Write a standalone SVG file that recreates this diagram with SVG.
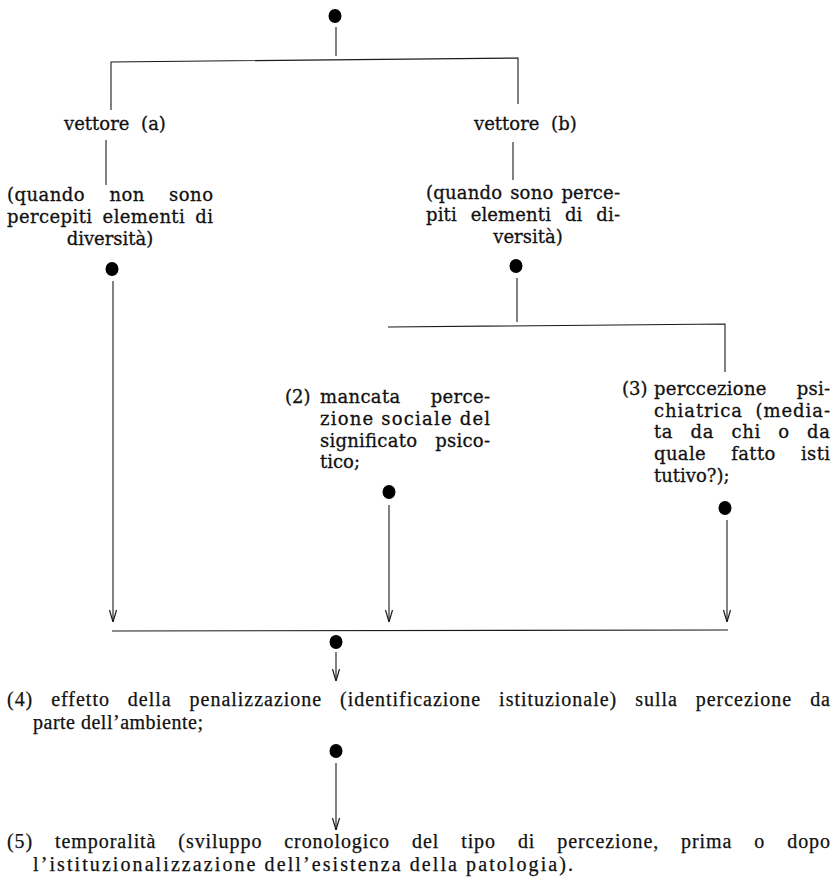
<svg xmlns="http://www.w3.org/2000/svg" width="837" height="877" viewBox="0 0 837 877">
<defs>
<marker id="arr" viewBox="0 -5 12 10" refX="12" refY="0" markerWidth="12" markerHeight="10" markerUnits="userSpaceOnUse" orient="auto">
<path d="M0,-3.5 L12,0 L0,3.5" fill="none" stroke="#1a1a1a" stroke-width="1.2"/>
</marker>
</defs>
<style>
.ln{stroke:#1a1a1a;stroke-width:1.1;fill:none}
.dot{fill:#000}
.t{font-family:"DejaVu Serif","Liberation Serif",serif;font-size:18px;fill:#111;stroke:#111;stroke-width:0.3}
.b{font-family:"Liberation Serif","Times New Roman",serif;font-size:20px;fill:#111;stroke:#111;stroke-width:0.25}
</style>
<rect width="837" height="877" fill="#fff"/>
<g id="connectors">
<line class="ln" x1="336" y1="27" x2="336" y2="56"/>
<polyline class="ln" points="111,110 111,62 518,58 518,104"/>
<line class="ln" x1="106" y1="140" x2="106" y2="185"/>
<line class="ln" x1="513" y1="142" x2="513" y2="180"/>
<line class="ln" x1="113" y1="281" x2="113" y2="622" marker-end="url(#arr)"/>
<line class="ln" x1="517" y1="278" x2="517" y2="322"/>
<polyline class="ln" points="388,327 725,324 725,372"/>
<line class="ln" x1="389" y1="505" x2="389" y2="622" marker-end="url(#arr)"/>
<line class="ln" x1="727" y1="520" x2="727" y2="622" marker-end="url(#arr)"/>
<line class="ln" x1="112" y1="631" x2="728" y2="630"/>
<line class="ln" x1="336" y1="652" x2="336" y2="681" marker-end="url(#arr)"/>
<line class="ln" x1="336" y1="763" x2="336" y2="830" marker-end="url(#arr)"/>
</g>
<g id="n-start">
<ellipse class="dot" cx="335" cy="16" rx="6.5" ry="7"/>
</g>
<g id="n-vettore-a">
<text class="t" x="64" y="130" word-spacing="6">vettore (a)</text>
</g>
<g id="n-a">
<text class="t" x="7" y="201" textLength="206" lengthAdjust="spacing" word-spacing="18">(quando non sono</text>
<text class="t" x="7" y="223" textLength="206" lengthAdjust="spacing" word-spacing="4">percepiti elementi di</text>
<text class="t" x="110" y="245" text-anchor="middle">diversità)</text>
<ellipse class="dot" cx="112" cy="269" rx="6.5" ry="7"/>
</g>
<g id="n-vettore-b">
<text class="t" x="474" y="130" word-spacing="6">vettore (b)</text>
</g>
<g id="n-b">
<text class="t" x="426" y="199" textLength="194" lengthAdjust="spacing" word-spacing="2">(quando sono perce-</text>
<text class="t" x="426" y="221" textLength="194" lengthAdjust="spacing" word-spacing="8">piti elementi di di-</text>
<text class="t" x="528" y="243" text-anchor="middle">versità)</text>
<ellipse class="dot" cx="516" cy="266" rx="6.5" ry="7"/>
</g>
<g id="n-2">
<text class="t" x="285" y="403">(2)</text>
<text class="t" x="320" y="403" textLength="170" lengthAdjust="spacing" word-spacing="24">mancata perce-</text>
<text class="t" x="320" y="425" textLength="170" lengthAdjust="spacing">zione sociale del</text>
<text class="t" x="320" y="447" textLength="170" lengthAdjust="spacing" word-spacing="12">significato psico-</text>
<text class="t" x="320" y="468">tico;</text>
<ellipse class="dot" cx="389" cy="492" rx="6.5" ry="7"/>
</g>
<g id="n-3">
<text class="t" x="622" y="395">(3)</text>
<text class="t" x="654" y="395" textLength="176" lengthAdjust="spacing" word-spacing="24">perccezione psi-</text>
<text class="t" x="654" y="417" textLength="176" lengthAdjust="spacing" word-spacing="6">chiatrica (media-</text>
<text class="t" x="654" y="438" textLength="176" lengthAdjust="spacing" word-spacing="11">ta da chi o da</text>
<text class="t" x="654" y="460" textLength="176" lengthAdjust="spacing" word-spacing="19">quale fatto isti</text>
<text class="t" x="654" y="482">tutivo?);</text>
<ellipse class="dot" cx="725" cy="508" rx="6.5" ry="7"/>
</g>
<g id="n-join">
<ellipse class="dot" cx="336" cy="642" rx="6.5" ry="7"/>
</g>
<g id="n-4">
<text class="b" x="7" y="706" textLength="823" lengthAdjust="spacing" word-spacing="12">(4) effetto della penalizzazione (identificazione istituzionale) sulla percezione da</text>
<text class="b" x="33" y="729" textLength="170" lengthAdjust="spacing">parte dell’ambiente;</text>
<ellipse class="dot" cx="336" cy="751" rx="6.5" ry="7"/>
</g>
<g id="n-5">
<text class="b" x="7" y="848" textLength="823" lengthAdjust="spacing" word-spacing="16">(5) temporalità (sviluppo cronologico del tipo di percezione, prima o dopo</text>
<text class="b" x="33" y="871" textLength="540" lengthAdjust="spacing">l’istituzionalizzazione dell’esistenza della patologia).</text>
</g>
</svg>
